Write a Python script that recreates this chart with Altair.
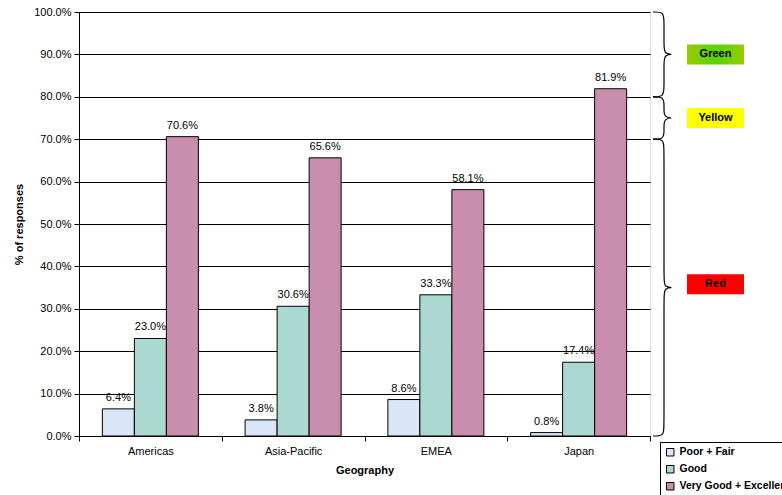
import altair as alt
import pandas as pd

# ---- data ----
geos = ["Americas", "Asia-Pacific", "EMEA", "Japan"]
series_names = ["Poor + Fair", "Good", "Very Good + Excellent"]
poor_fair = [6.4, 3.8, 8.6, 0.8]
good = [23.0, 30.6, 33.3, 17.4]
very_good = [70.6, 65.6, 58.1, 81.9]

band_names = ["Green", "Yellow", "Red"]
band_lo = [80, 70, 0]
band_hi = [100, 80, 70]
band_label_at = [90, 75, 35.8]

y_ticks = [0, 10, 20, 30, 40, 50, 60, 70, 80, 90, 100]

# ---- style ----
FONT = "Liberation Sans"
series_colors = ["#d9e6f7", "#abd9d2", "#c98eae"]
band_colors = ["#7fcc00", "#ffff00", "#ff0000"]
W, H = 571, 424

rows = []
for s, vals in zip(series_names, [poor_fair, good, very_good]):
    for g, v in zip(geos, vals):
        rows.append({"geo": g, "series": s, "value": v})
df = pd.DataFrame(rows)

# brace control points built from band ranges
brace_rows = []
for name, lo, hi in zip(band_names, band_lo, band_hi):
    m = (lo + hi) / 2
    e = 2.3
    pts = [(0, hi), (0.5, hi), (0.5, hi - e), (0.5, m + e), (0.5, m), (1, m),
           (0.5, m), (0.5, m - e), (0.5, lo + e), (0.5, lo), (0, lo)]
    for i, (bx, by) in enumerate(pts):
        brace_rows.append({"band": name, "i": i, "bx": bx, "by": by})
brace_df = pd.DataFrame(brace_rows)

box_df = pd.DataFrame({"band": band_names, "mid": band_label_at})
box_df["y1"] = box_df["mid"] - 2.36
box_df["y2"] = box_df["mid"] + 2.36

x_enc = alt.X("geo:N", sort=geos, scale=alt.Scale(paddingInner=0, paddingOuter=0),
              axis=alt.Axis(title="Geography", labelAngle=0, tickBand="extent",
                            tickSize=5, tickColor="black", domainColor="black",
                            labelFontSize=11, labelColor="black", labelPadding=4,
                            titleFontSize=11, titleFontWeight="bold", titleColor="black",
                            titlePadding=8, labelFont=FONT, titleFont=FONT))
xo_enc = alt.XOffset("series:N", sort=series_names,
                     scale=alt.Scale(domain=series_names, paddingInner=0, paddingOuter=0.73))
y_enc = alt.Y("value:Q", scale=alt.Scale(domain=[0, 100], nice=False),
              axis=alt.Axis(title="% of responses", values=y_ticks,
                            labelExpr="format(datum.value, '.1f') + '%'",
                            tickSize=5, tickColor="black", domainColor="black",
                            gridColor="black", gridWidth=1, labelFontSize=11,
                            labelColor="black", labelPadding=3, titleFontSize=11,
                            titleFontWeight="bold", titleColor="black", titlePadding=9,
                            labelFont=FONT, titleFont=FONT))

bars = alt.Chart(df).mark_bar(stroke="black", strokeWidth=1).encode(
    x=x_enc, xOffset=xo_enc, y=y_enc,
    color=alt.Color("series:N", sort=series_names,
                    scale=alt.Scale(domain=series_names, range=series_colors),
                    legend=alt.Legend(title=None, orient="none", legendX=581, legendY=430,
                                      strokeColor="black", fillColor="white", padding=5,
                                      symbolType="square", symbolSize=56,
                                      symbolStrokeColor="black", symbolStrokeWidth=1,
                                      labelFont=FONT, labelFontSize=10.5,
                                      labelFontWeight="bold", labelColor="black",
                                      rowPadding=5, labelLimit=400)),
)

labels = alt.Chart(df).transform_calculate(
    lbl="format(datum.value, '.1f') + '%'"
).mark_text(baseline="bottom", dy=-6, fontSize=11, font=FONT, color="black").encode(
    x=x_enc, xOffset=xo_enc, y="value:Q", text="lbl:N",
)

main = alt.layer(bars, labels)

braces = alt.Chart(brace_df).mark_line(interpolate="basis", color="black",
                                       strokeWidth=1.2).encode(
    x=alt.X("bx:Q", scale=alt.Scale(domain=[0, 1], range=[W + 3, W + 25]), axis=None),
    y=alt.Y("by:Q"),
    detail="band:N",
    order="i:Q",
)

boxes = alt.Chart(box_df).transform_filter(alt.datum.band != "Green").mark_rect().encode(
    x=alt.value(W + 37), x2=alt.value(W + 94),
    y=alt.Y("y1:Q"), y2="y2:Q",
    fill=alt.Fill("band:N", scale=alt.Scale(domain=band_names, range=band_colors),
                  legend=None),
)
green_box = alt.Chart(box_df).transform_filter(alt.datum.band == "Green").mark_rect(
    fill=alt.LinearGradient(gradient="linear", x1=0, x2=1, y1=0, y2=0,
                            stops=[alt.GradientStop(color="#99cc00", offset=0),
                                   alt.GradientStop(color="#55d400", offset=0.5),
                                   alt.GradientStop(color="#99cc00", offset=1)])
).encode(
    x=alt.value(W + 37), x2=alt.value(W + 94),
    y=alt.Y("y1:Q"), y2="y2:Q",
)
box_text = alt.Chart(box_df).mark_text(fontSize=11, fontWeight="bold", font=FONT,
                                       color="black").encode(
    x=alt.value(W + 65.5), y=alt.Y("mid:Q"), text="band:N",
)

chart = alt.layer(main, braces, boxes, green_box, box_text).resolve_scale(
    x="independent"
).properties(
    width=W, height=H,
    autosize=alt.AutoSizeParams(type="none"),
    padding={"left": 79, "top": 12, "right": 132, "bottom": 59},
).configure_view(stroke="black", strokeWidth=1).configure(background="white")

chart.save("out.html", embed_options={"renderer": "svg", "actions": False})
